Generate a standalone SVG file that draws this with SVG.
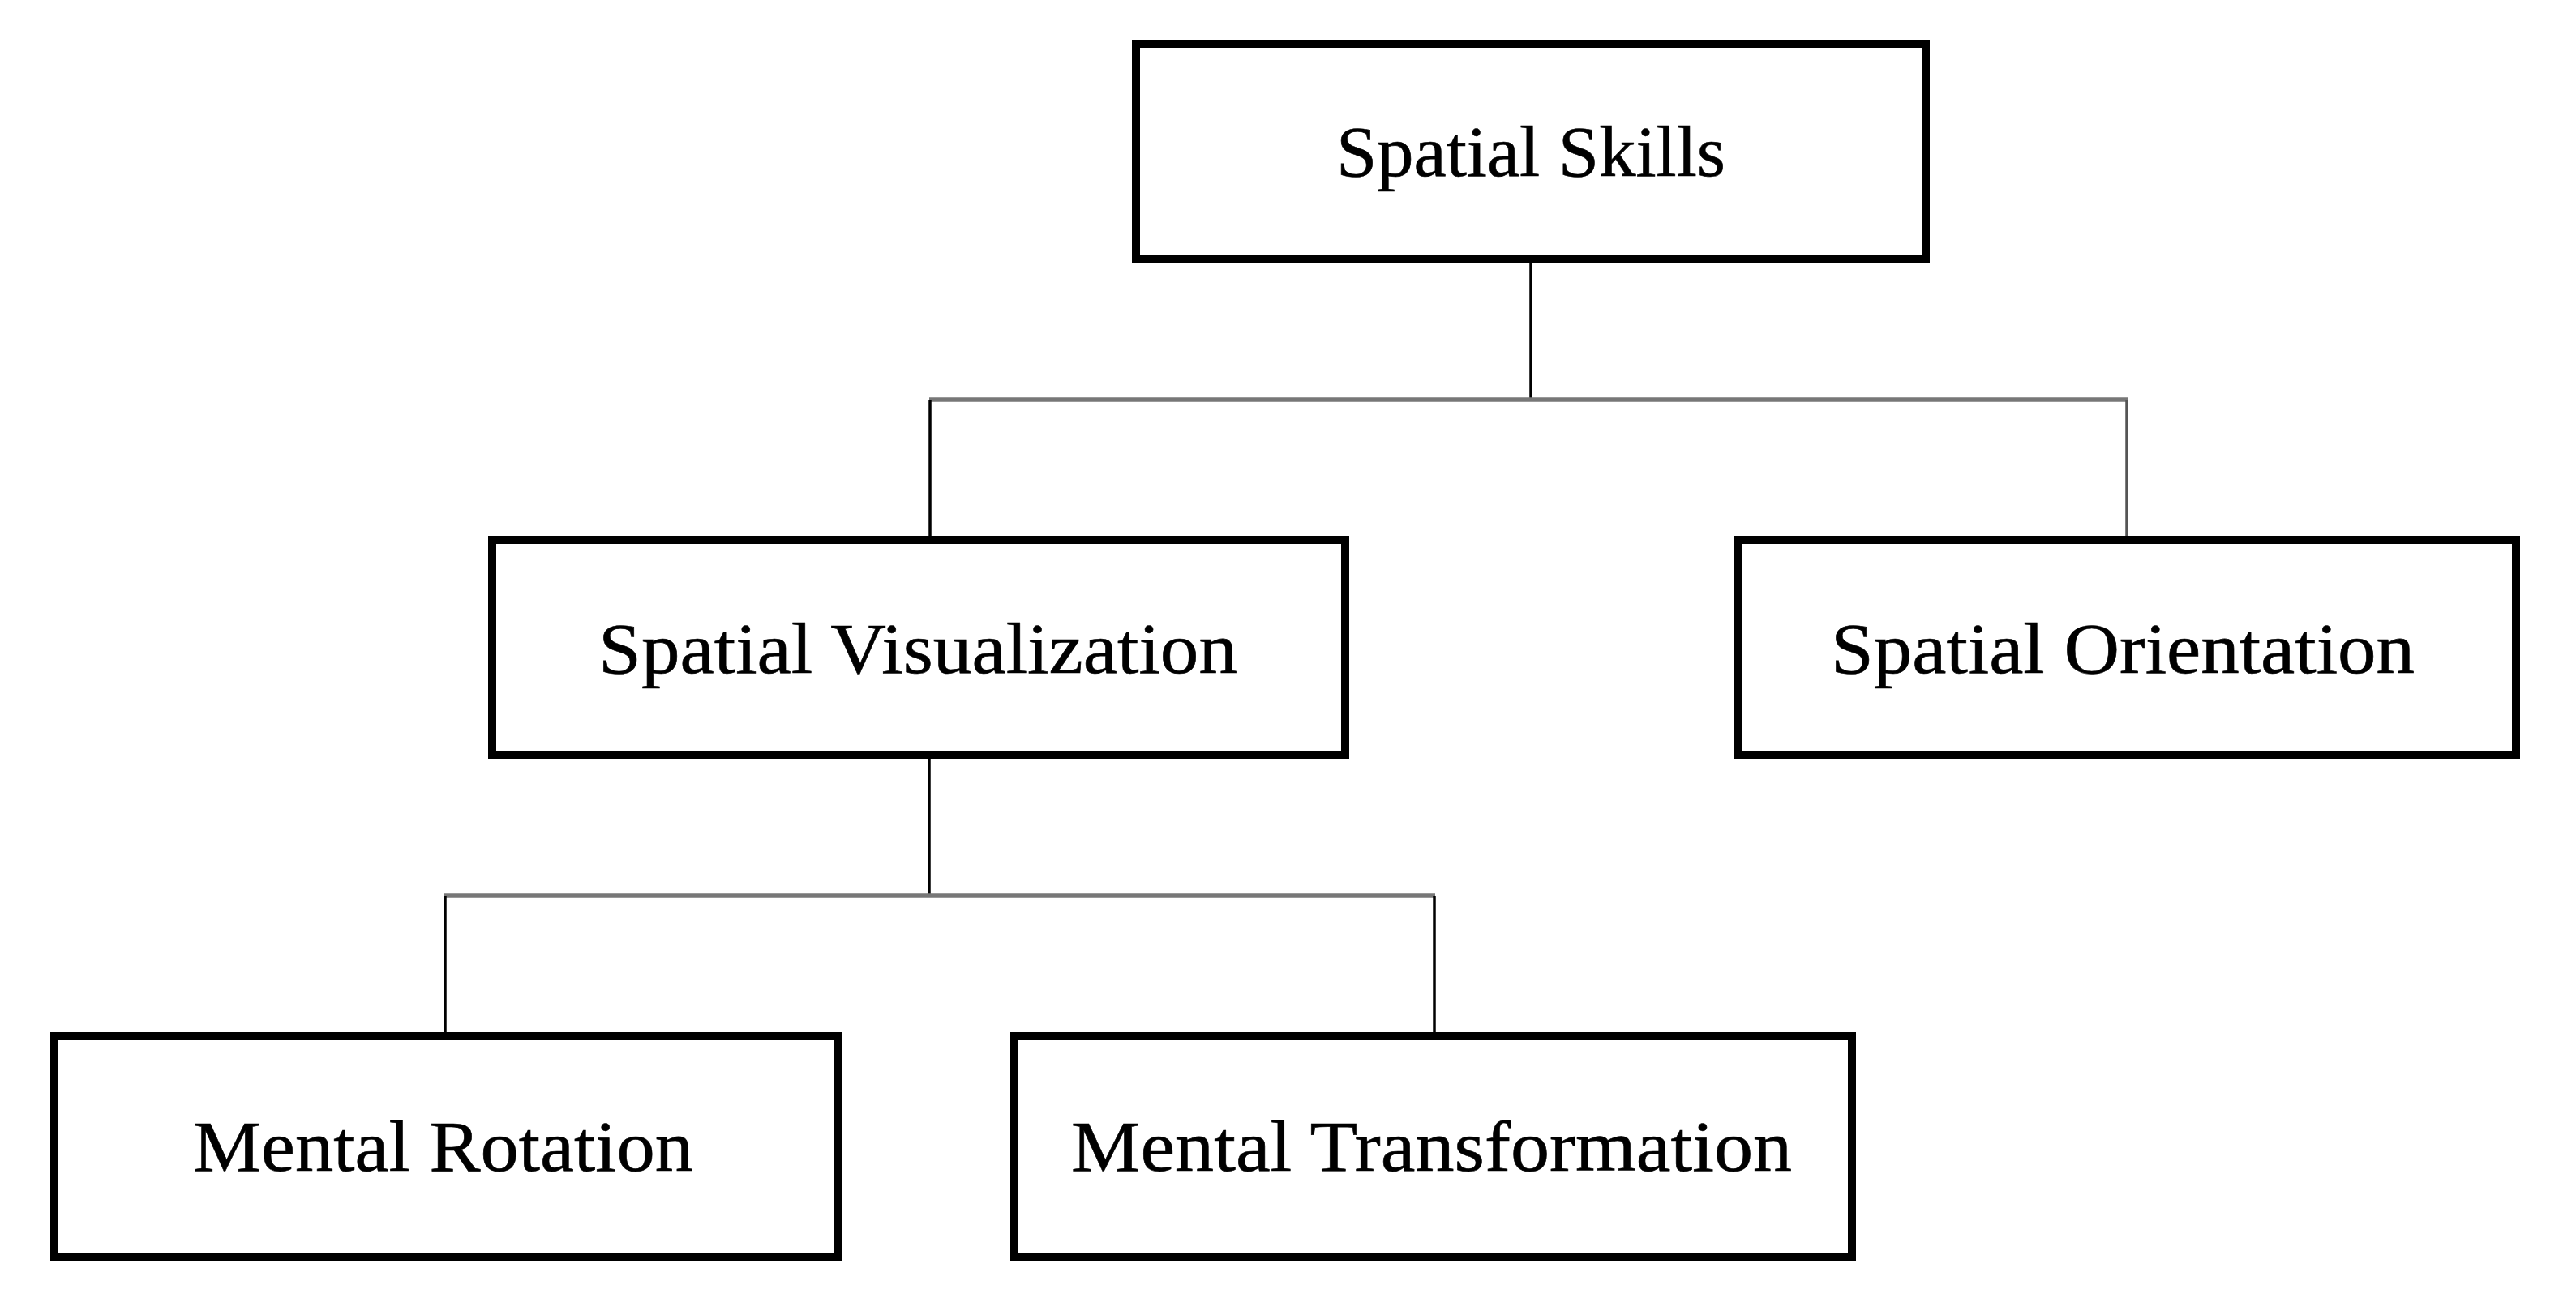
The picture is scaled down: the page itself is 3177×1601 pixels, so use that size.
<svg xmlns="http://www.w3.org/2000/svg" width="3177" height="1601" viewBox="0 0 3177 1601">
<style>
.box{fill:#fff;stroke:#000;stroke-width:10}
.lbl{font-family:"Liberation Serif","Times New Roman",serif;font-size:88px;fill:#000;stroke:#000;stroke-width:0.6}
.v{stroke:#000;stroke-width:3.5;fill:none}
.h{stroke:#777;stroke-width:5.5;fill:none}
</style>
<rect width="3177" height="1601" fill="#fff"/>
<g id="connectors">
<line class="v" x1="1888" y1="324" x2="1888" y2="493"/>
<line class="h" x1="1146" y1="493" x2="2624" y2="493"/>
<line class="v" x1="1147" y1="493" x2="1147" y2="661"/>
<line class="v" x1="2623" y1="493" x2="2623" y2="661" style="stroke:#555"/>
<line class="v" x1="1146" y1="936" x2="1146" y2="1105"/>
<line class="h" x1="548" y1="1105" x2="1770" y2="1105"/>
<line class="v" x1="549" y1="1105" x2="549" y2="1273"/>
<line class="v" x1="1769" y1="1105" x2="1769" y2="1273"/>
</g>
<g id="spatial-skills">
<rect class="box" x="1401" y="54" width="974" height="265"/>
<text class="lbl" x="1648" y="217" textLength="480" lengthAdjust="spacingAndGlyphs">Spatial Skills</text>
</g>
<g id="spatial-visualization">
<rect class="box" x="607" y="666" width="1052" height="265"/>
<text class="lbl" x="738" y="830" textLength="788" lengthAdjust="spacingAndGlyphs">Spatial Visualization</text>
</g>
<g id="spatial-orientation">
<rect class="box" x="2143" y="666" width="960" height="265"/>
<text class="lbl" x="2258" y="830" textLength="720" lengthAdjust="spacingAndGlyphs">Spatial Orientation</text>
</g>
<g id="mental-rotation">
<rect class="box" x="67" y="1278" width="967" height="272"/>
<text class="lbl" x="238" y="1444" textLength="617" lengthAdjust="spacingAndGlyphs">Mental Rotation</text>
</g>
<g id="mental-transformation">
<rect class="box" x="1251" y="1278" width="1033" height="272"/>
<text class="lbl" x="1321" y="1444" textLength="889" lengthAdjust="spacingAndGlyphs">Mental Transformation</text>
</g>
</svg>
